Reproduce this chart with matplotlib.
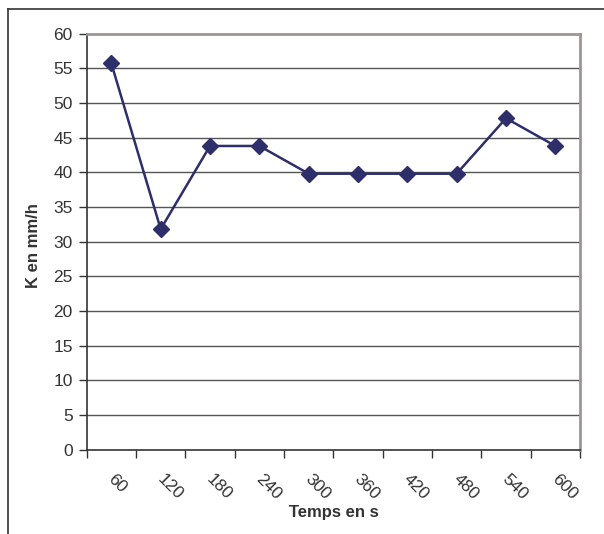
import matplotlib
matplotlib.use("Agg")
import matplotlib.pyplot as plt
import matplotlib.transforms as mtransforms
from matplotlib.lines import Line2D
import numpy as np

plt.rcParams['font.family'] = ['Liberation Sans', 'DejaVu Sans']

# Temps (s) and hydraulic conductivity K (mm/h)
temps = ["60", "120", "180", "240", "300", "360", "420", "480", "540", "600"]
k_values = [55.7, 31.8, 43.8, 43.8, 39.8, 39.8, 39.8, 39.8, 47.8, 43.8]
y_ticks = [0, 5, 10, 15, 20, 25, 30, 35, 40, 45, 50, 55, 60]

W, H = 604, 534
fig = plt.figure(figsize=(W / 100, H / 100), dpi=100)
fig.patch.set_facecolor("white")

# outer chart-area border (top and left edges)
fig.add_artist(Line2D([8 / W, 1.0], [1 - 8.7 / H, 1 - 8.7 / H], transform=fig.transFigure,
                      color="#333333", lw=1.2))
fig.add_artist(Line2D([8 / W, 8 / W], [0.0, 1 - 8.7 / H], transform=fig.transFigure,
                      color="#333333", lw=1.2))

left, right = 86.7 / W, 580 / W
bottom, top = 1 - 449.5 / H, 1 - 33.7 / H
ax = fig.add_axes([left, bottom, right - left, top - bottom])

x = np.arange(len(temps))
ax.plot(x, k_values, color="#2E2E6B", lw=1.8, marker="D", markersize=8,
        markerfacecolor="#2E2E6B", markeredgecolor="#2E2E6B", zorder=3)

ax.set_xlim(-0.5, len(temps) - 0.5)
ax.set_ylim(0, 60)

# horizontal gridlines
ax.set_yticks(y_ticks)
for v in y_ticks[1:-1]:
    ax.axhline(v, color="#555555", lw=1.0, zorder=1)

ax.tick_params(axis="y", direction="out", length=6, width=1, color="#333333",
               labelsize=12.5, labelcolor="#333333", pad=4)

# category boundaries carry the ticks, labels sit at category centres
ax.set_xticks(np.arange(-0.5, len(temps), 1.0))
ax.set_xticklabels([])
ax.tick_params(axis="x", which="major", direction="out", length=6, width=1, color="#333333")
ax.set_xticks(x, minor=True)
ax.set_xticklabels(temps, minor=True)
ax.tick_params(axis="x", which="minor", length=0, labelsize=12.5, labelcolor="#333333", pad=16)
offset = mtransforms.ScaledTranslation(4 / 100, 0, fig.dpi_scale_trans)
for lbl in ax.get_xticklabels(minor=True):
    lbl.set_rotation(-45)
    lbl.set_rotation_mode("anchor")
    lbl.set_ha("left")
    lbl.set_va("top")
    lbl.set_transform(lbl.get_transform() + offset)

for side in ("left", "bottom"):
    ax.spines[side].set_color("#333333")
    ax.spines[side].set_linewidth(1.2)
for side in ("top", "right"):
    ax.spines[side].set_color("#A09494")
    ax.spines[side].set_linewidth(2.0)

fig.text(334 / W, 1 - 513 / H, "Temps en s", ha="center", va="center",
         fontsize=12, fontweight="bold", color="#333333")
fig.text(33 / W, 1 - 246 / H, "K en mm/h", ha="center", va="center", rotation=90,
         fontsize=12, fontweight="bold", color="#333333")

fig.savefig("out.png", dpi=100, facecolor="white")
